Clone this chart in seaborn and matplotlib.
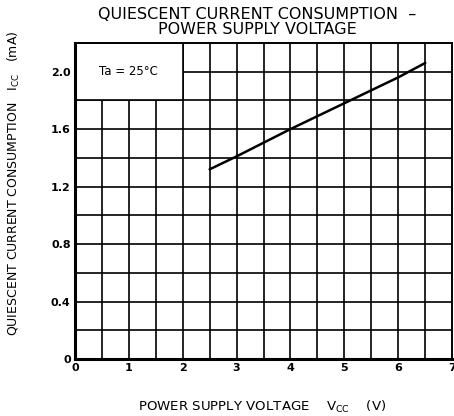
import matplotlib
matplotlib.use("Agg")
import matplotlib.pyplot as plt
import seaborn as sns
import pandas as pd
from matplotlib.patches import Rectangle

# values
vcc = [2.5, 3.0, 4.0, 5.0, 6.0, 6.5]
icc = [1.32, 1.41, 1.60, 1.78, 1.96, 2.06]
x_ticks = [0, 1, 2, 3, 4, 5, 6, 7]
y_ticks = [0, 0.4, 0.8, 1.2, 1.6, 2.0]
y_tick_labels = ["0", "0.4", "0.8", "1.2", "1.6", "2.0"]

df = pd.DataFrame({"vcc": vcc, "icc": icc})

sns.set_style("white")
plt.rcParams['font.family'] = ['DejaVu Sans']
plt.rcParams['text.color'] = 'black'
plt.rcParams['axes.labelcolor'] = 'black'
plt.rcParams['xtick.color'] = 'black'
plt.rcParams['ytick.color'] = 'black'

fig = plt.figure(figsize=(4.54, 4.16), dpi=100)
ax = fig.add_axes([0.165, 0.137, 0.831, 0.76])

# grid every 0.5 V / 0.2 mA
for xv in [i * 0.5 for i in range(1, 14)]:
    ax.axvline(xv, color='black', lw=1.2, zorder=1)
for yv in [i * 0.2 for i in range(1, 11)]:
    ax.axhline(yv, color='black', lw=1.2, zorder=1)

# label box over the grid
ax.add_patch(Rectangle((0, 1.8), 2.0, 0.4, facecolor='white', edgecolor='black',
                       lw=1.2, zorder=2))
ax.text(1.0, 2.0, "Ta = 25°C", ha='center', va='center', fontsize=8.5, zorder=3)

sns.lineplot(data=df, x="vcc", y="icc", color='black', lw=1.8, ax=ax, zorder=4)

ax.set_xlim(0, 7)
ax.set_ylim(0, 2.2)
ax.set_xticks(x_ticks)
ax.set_xticklabels([str(t) for t in x_ticks], fontsize=8, fontweight='bold')
ax.set_yticks(y_ticks)
ax.set_yticklabels(y_tick_labels, fontsize=8, fontweight='bold')
ax.tick_params(length=0, pad=3)

for s in ax.spines.values():
    s.set_color('black')
    s.set_linewidth(1.4)
ax.spines['left'].set_linewidth(2.2)
ax.spines['bottom'].set_linewidth(2.2)

ax.set_xlabel("POWER SUPPLY VOLTAGE    V$_{\\mathrm{CC}}$    (V)", fontsize=9.6)
ax.set_ylabel("QUIESCENT CURRENT CONSUMPTION   I$_{\\mathrm{CC}}$   (mA)", fontsize=9.0)
ax.xaxis.set_label_coords(0.495, -0.125)
ax.yaxis.set_label_coords(-0.14, 0.557)

fig.text(0.566, 0.982, "QUIESCENT CURRENT CONSUMPTION  –\nPOWER SUPPLY VOLTAGE",
         ha='center', va='top', fontsize=11.5, linespacing=1.0)

fig.savefig("out.png", dpi=100)
